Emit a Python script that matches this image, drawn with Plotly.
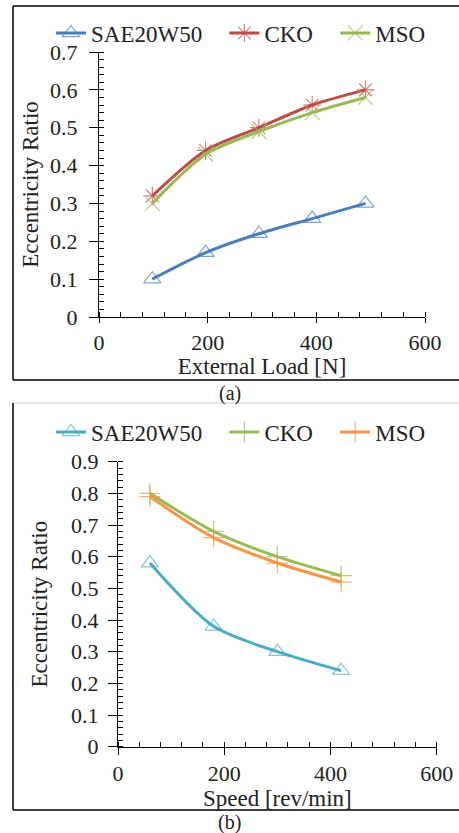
import plotly.graph_objects as go

# ---- data (a) ----
load_N = [98.1, 196.2, 294.3, 392.4, 490.5]
a_sae = [0.10, 0.17, 0.22, 0.26, 0.30]
a_cko = [0.32, 0.44, 0.50, 0.56, 0.60]
a_mso = [0.30, 0.43, 0.49, 0.54, 0.58]

# ---- data (b) ----
speed = [60, 180, 300, 420]
b_sae = [0.58, 0.38, 0.30, 0.24]
b_cko = [0.80, 0.68, 0.60, 0.54]
b_mso = [0.79, 0.66, 0.58, 0.52]

names = ["SAE20W50", "CKO", "MSO"]

W, H = 459, 833
FONT = "Liberation Serif, Times New Roman, serif"
PAD = "\u00a0" * 3

def px_x(x):
    return x / W

def px_y(y):
    return 1 - y / H

fig = go.Figure()

def add(x, y, name, color, symbol, xa, ya, leg, msize=15):
    fig.add_trace(go.Scatter(
        x=x, y=y, name=name + PAD, mode="lines+markers",
        line=dict(color=color, width=3, shape="spline", smoothing=0.8),
        marker=dict(symbol=symbol, size=msize, color=color, opacity=0.7,
                    line=dict(color=color, width=1.2)),
        xaxis=xa, yaxis=ya, legend=leg))

add(load_N, a_sae, names[0], "#4a7ebb", "triangle-up-open", "x", "y", "legend")
add(load_N, a_cko, names[1], "#be4b48", "asterisk-open", "x", "y", "legend")
add(load_N, a_mso, names[2], "#98b954", "x-thin-open", "x", "y", "legend")

add(speed, b_sae, names[0], "#4bacc6", "triangle-up-open", "x2", "y2", "legend2")
add(speed, b_cko, names[1], "#9bbb59", "cross-thin-open", "x2", "y2", "legend2", 15)
add(speed, b_mso, names[2], "#f79646", "cross-thin-open", "x2", "y2", "legend2", 15)

tickfont = dict(family=FONT, size=22, color="#222")
titlefont = dict(family=FONT, size=23, color="#222")

def xax(domain, anchor, title, ticklen):
    return dict(domain=domain, anchor=anchor, range=[0, 600], dtick=200,
                automargin=False,
                showgrid=False, zeroline=False, showline=True, linecolor="black",
                linewidth=1.2, ticks="outside", ticklen=ticklen, tickcolor="black",
                tickfont=tickfont, title=dict(text=title, font=titlefont, standoff=0),
                minor=dict(dtick=40, ticks="inside", ticklen=5, tickcolor="black"))

def yax(domain, anchor, rng, standoff, lstand):
    return dict(domain=domain, anchor=anchor, range=rng, dtick=0.1,
                automargin=False,
                showgrid=False, zeroline=False, showline=True, linecolor="black",
                linewidth=1.2, ticks="outside", ticklen=9, tickcolor="black",
                tickfont=tickfont, ticklabelstandoff=lstand,
                title=dict(text="Eccentricity Ratio", font=titlefont, standoff=standoff),
                minor=dict(dtick=0.02, ticks="inside", ticklen=5, tickcolor="black"))

fig.update_layout(
    template="none",
    width=W, height=H, margin=dict(l=0, r=0, t=0, b=0, autoexpand=False),
    paper_bgcolor="white", plot_bgcolor="white",
    xaxis=xax([px_x(99), px_x(425)], "y", "External Load [N]", 5),
    yaxis=yax([px_y(317), px_y(52)], "x", [0, 0.7], 4, 7),
    xaxis2=xax([px_x(118), px_x(436.7)], "y2", "Speed [rev/min]", 7),
    yaxis2=yax([px_y(746.7), px_y(461.7)], "x2", [0, 0.9], 16, 5),
    legend=dict(orientation="h", x=px_x(51), y=px_y(33), xanchor="left", yanchor="middle",
                font=dict(family=FONT, size=23, color="#222"), bgcolor="rgba(0,0,0,0)",
                itemwidth=30, tracegroupgap=0),
    legend2=dict(orientation="h", x=px_x(51), y=px_y(432), xanchor="left", yanchor="middle",
                 font=dict(family=FONT, size=23, color="#222"), bgcolor="rgba(0,0,0,0)",
                 itemwidth=30, tracegroupgap=0),
    showlegend=True,
)

# panel frames
fig.add_shape(type="line", xref="paper", yref="paper", x0=px_x(13), x1=1.0,
              y0=px_y(6), y1=px_y(6), line=dict(color="black", width=1.5))
fig.add_shape(type="line", xref="paper", yref="paper", x0=px_x(13), x1=px_x(13),
              y0=px_y(6), y1=px_y(380), line=dict(color="black", width=1.5))
fig.add_shape(type="line", xref="paper", yref="paper", x0=px_x(13), x1=1.0,
              y0=px_y(380), y1=px_y(380), line=dict(color="black", width=1.5))
fig.add_shape(type="line", xref="paper", yref="paper", x0=px_x(13), x1=1.0,
              y0=px_y(403), y1=px_y(403), line=dict(color="#cccccc", width=1.2))
fig.add_shape(type="line", xref="paper", yref="paper", x0=px_x(13), x1=px_x(13),
              y0=px_y(403), y1=px_y(810), line=dict(color="black", width=1.5))
fig.add_shape(type="line", xref="paper", yref="paper", x0=px_x(13), x1=1.0,
              y0=px_y(810), y1=px_y(810), line=dict(color="black", width=1.5))

fig.add_annotation(text="(a)", xref="paper", yref="paper", x=px_x(230), y=px_y(393),
                   xanchor="center", yanchor="middle",
                   showarrow=False, font=dict(family=FONT, size=20, color="#222"))
fig.add_annotation(text="(b)", xref="paper", yref="paper", x=px_x(230), y=px_y(822),
                   xanchor="center", yanchor="middle",
                   showarrow=False, font=dict(family=FONT, size=20, color="#222"))

fig.write_html("out.html")
